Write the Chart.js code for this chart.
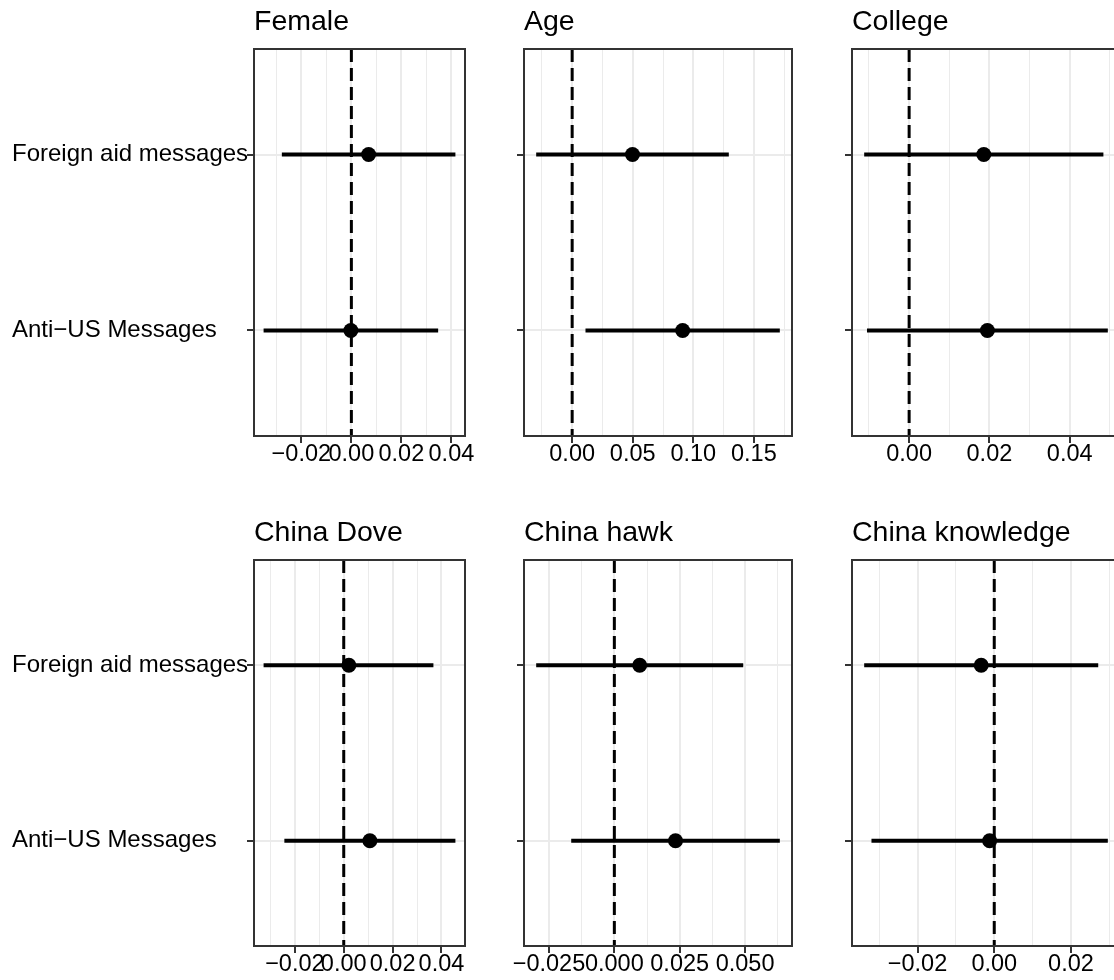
<!DOCTYPE html>
<html>
<head>
<meta charset="utf-8">
<script src="https://cdn.jsdelivr.net/npm/chart.js@4.4.1/dist/chart.umd.min.js"></script>
<style>
  html, body { margin: 0; padding: 0; background: #fff; overflow: hidden; width: 1114px; height: 980px; }
  #fig { position: relative; width: 1114px; height: 980px; overflow: hidden; background: #fff; }
  #fig canvas { position: absolute; }
</style>
</head>
<body>
<div id="fig"></div>
<script>
// Coefficient estimates with 95% intervals, one entry per panel
const panelTitles = ['Female', 'Age', 'College', 'China Dove', 'China hawk', 'China knowledge'];
const categories = ['Foreign aid messages', 'Anti\u2212US Messages'];

const aidEstimate  = [0.0069, 0.0498, 0.0186, 0.0021, 0.0097, -0.0034];
const aidLower     = [-0.0278, -0.0297, -0.0112, -0.0328, -0.0299, -0.0339];
const aidUpper     = [0.0416, 0.1293, 0.0484, 0.0367, 0.0493, 0.0271];

const antiEstimate = [-0.0002, 0.0912, 0.0195, 0.0107, 0.0234, -0.0012];
const antiLower    = [-0.0351, 0.0110, -0.0105, -0.0243, -0.0165, -0.0320];
const antiUpper    = [0.0347, 0.1714, 0.0495, 0.0457, 0.0633, 0.0296];

// Major tick spacing and label decimals for each panel's x axis
const tickStep   = [0.02, 0.05, 0.02, 0.02, 0.025, 0.02];
const tickDigits = [2, 2, 2, 2, 3, 2];

// Page layout of the 2 x 3 grid of panels (plot-area edges, px)
const colLeft  = [254, 524, 852];
const colRight = [465, 792, 1120];
const rowTop    = [49, 560];
const rowBottom = [436, 946];
const rowCanvasTop = [0, 490];
const CANVAS_H = 490;
const X_AXIS_H = 30;

const FONT = '"Liberation Sans", Arial, Helvetica, sans-serif';
Chart.defaults.font.family = FONT;

const GRID = '#EBEBEB';
const INK = '#333333';

function minusSign(s) { return s.replace('-', '\u2212'); }

function buildTicks(min, max, step) {
  const out = [];
  const k0 = Math.floor(min / step) - 1, k1 = Math.ceil(max / step) + 1;
  for (let k = k0; k <= k1; k++) {
    const major = k * step, minor = (k + 0.5) * step;
    if (major >= min && major <= max) out.push({ value: major, minor: false });
    if (minor >= min && minor <= max) out.push({ value: minor, minor: true });
  }
  return out.sort((a, b) => a.value - b.value);
}

// Panel box and left-aligned panel title
const panelFrame = {
  id: 'panelFrame',
  afterDraw(chart, args, opts) {
    const { ctx, chartArea: a } = chart;
    ctx.save();
    ctx.strokeStyle = INK;
    ctx.lineWidth = 2;
    ctx.strokeRect(a.left, a.top, a.right - a.left, a.bottom - a.top);
    ctx.fillStyle = '#000';
    ctx.font = '28.5px ' + FONT;
    ctx.textAlign = 'left';
    ctx.textBaseline = 'alphabetic';
    ctx.fillText(opts.text, a.left, a.top - 19);
    ctx.restore();
  }
};

const fig = document.getElementById('fig');

panelTitles.forEach((title, i) => {
  const col = i % 3, row = Math.floor(i / 3);

  const lows = [aidLower[i], antiLower[i]];
  const highs = [aidUpper[i], antiUpper[i]];
  const lo = Math.min(...lows), hi = Math.max(...highs);
  const pad = (hi - lo) * 0.05;
  const xMin = lo - pad, xMax = hi + pad;

  const canvasLeft = col === 0 ? 0 : colLeft[col] - 30;
  const canvasW = colRight[col] + 30 - canvasLeft;
  const padLeft = col === 0 ? 12 : 0;
  const yAxisW = colLeft[col] - canvasLeft - padLeft;
  const padTop = rowTop[row] - rowCanvasTop[row];
  const padBottom = rowCanvasTop[row] + CANVAS_H - rowBottom[row] - X_AXIS_H;

  const cv = document.createElement('canvas');
  cv.width = canvasW;
  cv.height = CANVAS_H;
  cv.style.left = canvasLeft + 'px';
  cv.style.top = rowCanvasTop[row] + 'px';
  cv.style.width = canvasW + 'px';
  cv.style.height = CANVAS_H + 'px';
  fig.appendChild(cv);

  new Chart(cv, {
    type: 'scatter',
    data: {
      datasets: [
        {
          type: 'scatter',
          data: [{ x: aidEstimate[i], y: 2 }, { x: antiEstimate[i], y: 1 }],
          pointRadius: 7.5,
          pointBackgroundColor: '#000',
          pointBorderWidth: 0,
          order: 0
        },
        {
          type: 'line',
          data: [{ x: aidLower[i], y: 2 }, { x: aidUpper[i], y: 2 }],
          borderColor: '#000', borderWidth: 4, pointRadius: 0, borderCapStyle: 'butt',
          order: 1
        },
        {
          type: 'line',
          data: [{ x: antiLower[i], y: 1 }, { x: antiUpper[i], y: 1 }],
          borderColor: '#000', borderWidth: 4, pointRadius: 0, borderCapStyle: 'butt',
          order: 1
        },
        {
          type: 'line',
          data: [{ x: 0, y: 2.6 }, { x: 0, y: 0.4 }],
          borderColor: '#000', borderWidth: 3, borderDash: [13, 6], pointRadius: 0,
          borderCapStyle: 'butt',
          order: 2
        }
      ]
    },
    options: {
      responsive: false,
      animation: false,
      devicePixelRatio: 1,
      events: [],
      layout: {
        autoPadding: false,
        padding: { left: padLeft, top: padTop, right: 30, bottom: padBottom }
      },
      plugins: {
        legend: { display: false },
        tooltip: { enabled: false },
        panelFrame: { text: title }
      },
      scales: {
        x: {
          type: 'linear',
          min: xMin,
          max: xMax,
          afterBuildTicks: s => { s.ticks = buildTicks(xMin, xMax, tickStep[i]); },
          afterFit: s => { s.height = X_AXIS_H; s.paddingLeft = 0; s.paddingRight = 0; },
          border: { display: false },
          grid: {
            color: GRID,
            lineWidth: c => (c.tick && c.tick.minor) ? 1 : 2,
            tickColor: INK,
            tickWidth: c => (c.tick && c.tick.minor) ? 0 : 2,
            tickLength: 7,
            drawTicks: true
          },
          ticks: {
            autoSkip: false,
            maxRotation: 0,
            minRotation: 0,
            padding: 0,
            color: '#000',
            font: { size: 23.5, lineHeight: 1 },
            callback: (v, idx, ticks) => {
              if (ticks[idx] && ticks[idx].minor) return '';
              const val = Math.abs(v) < 1e-12 ? 0 : v;
              return minusSign(val.toFixed(tickDigits[i]));
            }
          }
        },
        y: {
          type: 'linear',
          min: 0.4,
          max: 2.6,
          afterBuildTicks: s => { s.ticks = [{ value: 1 }, { value: 2 }]; },
          afterFit: s => { s.width = yAxisW; s.paddingTop = 0; s.paddingBottom = 0; },
          border: { display: false },
          grid: {
            color: GRID,
            lineWidth: 2,
            tickColor: INK,
            tickWidth: 2,
            tickLength: 7,
            drawTicks: true
          },
          ticks: {
            autoSkip: false,
            crossAlign: 'far',
            padding: 0,
            color: '#000',
            font: { size: 24 },
            callback: v => col === 0 ? (v === 2 ? categories[0] : categories[1]) : ''
          }
        }
      }
    },
    plugins: [panelFrame]
  });
});
</script>
</body>
</html>
